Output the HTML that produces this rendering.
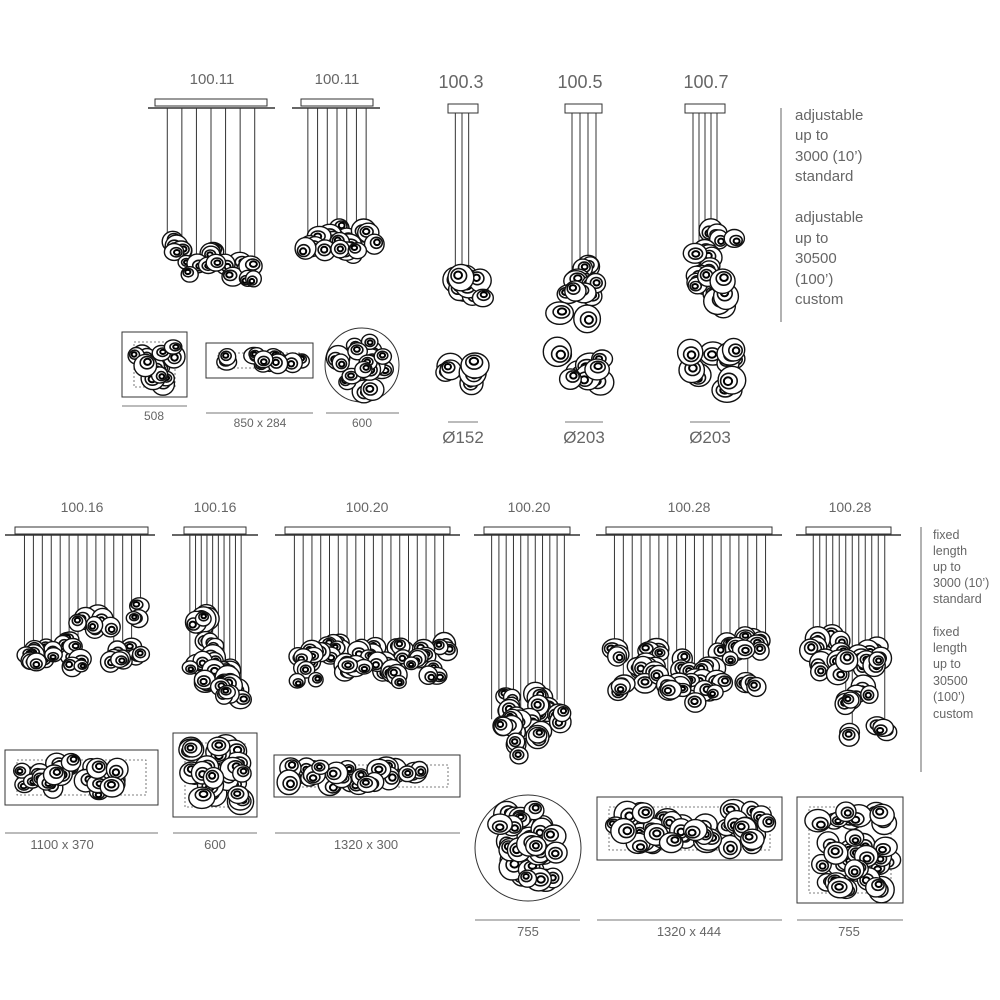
<!DOCTYPE html>
<html><head><meta charset="utf-8"><style>
html,body{margin:0;padding:0;background:#fff;width:1000px;height:1000px;overflow:hidden}
svg{display:block}
text{font-family:"Liberation Sans",sans-serif;fill:#666}
</style></head><body>
<svg id="s" width="1000" height="1000" viewBox="0 0 1000 1000" xmlns="http://www.w3.org/2000/svg">
<g fill="none" stroke="#333" stroke-width="1">
<rect x="155" y="99" width="112" height="7"/><line x1="148" y1="108" x2="275" y2="108" stroke-width="1.5"/>
<rect x="301" y="99" width="72" height="7"/><line x1="292" y1="108" x2="380" y2="108" stroke-width="1.5"/>
<rect x="448" y="104" width="30" height="9"/>
<rect x="565" y="104" width="37" height="9"/>
<rect x="685" y="104" width="40" height="9"/>
<line x1="781" y1="108" x2="781" y2="322" stroke="#666"/>
<rect x="122" y="332" width="65" height="65"/>
<rect x="206" y="343" width="107" height="35"/>
<circle cx="362" cy="365" r="37"/>
<g stroke="#777">
<line x1="122" y1="406" x2="187" y2="406"/><line x1="206" y1="413" x2="313" y2="413"/><line x1="326" y1="413" x2="399" y2="413"/>
<line x1="448" y1="422" x2="478" y2="422"/><line x1="565" y1="422" x2="603" y2="422"/><line x1="690" y1="422" x2="730" y2="422"/>
</g>
<rect x="15" y="527" width="133" height="7"/><line x1="5" y1="535" x2="155" y2="535" stroke-width="1.5"/>
<rect x="184" y="527" width="62" height="7"/><line x1="172" y1="535" x2="258" y2="535" stroke-width="1.5"/>
<rect x="285" y="527" width="165" height="7"/><line x1="275" y1="535" x2="460" y2="535" stroke-width="1.5"/>
<rect x="484" y="527" width="86" height="7"/><line x1="474" y1="535" x2="580" y2="535" stroke-width="1.5"/>
<rect x="606" y="527" width="166" height="7"/><line x1="596" y1="535" x2="782" y2="535" stroke-width="1.5"/>
<rect x="806" y="527" width="85" height="7"/><line x1="796" y1="535" x2="901" y2="535" stroke-width="1.5"/>
<line x1="921" y1="527" x2="921" y2="772" stroke="#666"/>
<rect x="5" y="750" width="153" height="55"/>
<rect x="173" y="733" width="84" height="84"/>
<rect x="274" y="755" width="186" height="42"/>
<circle cx="528" cy="848" r="53"/>
<rect x="597" y="797" width="185" height="63"/>
<rect x="797" y="797" width="106" height="106"/>
<g stroke="#777">
<line x1="5" y1="833" x2="158" y2="833"/><line x1="173" y1="833" x2="257" y2="833"/><line x1="275" y1="833" x2="460" y2="833"/>
<line x1="475" y1="920" x2="580" y2="920"/><line x1="597" y1="920" x2="782" y2="920"/><line x1="797" y1="920" x2="903" y2="920"/>
</g>
</g>
<g id="dyn"></g>
<g font-size="15" text-anchor="middle">
<text x="212" y="84">100.11</text><text x="337" y="84">100.11</text>
<text x="461" y="88" font-size="18">100.3</text><text x="580" y="88" font-size="18">100.5</text><text x="706" y="88" font-size="18">100.7</text>
<text x="154" y="420" font-size="12">508</text><text x="260" y="427" font-size="12">850 x 284</text><text x="362" y="427" font-size="12">600</text>
<text x="463" y="443" font-size="17">Ø152</text><text x="584" y="443" font-size="17">Ø203</text><text x="710" y="443" font-size="17">Ø203</text>
<text x="82" y="512" font-size="14">100.16</text><text x="215" y="512" font-size="14">100.16</text><text x="367" y="512" font-size="14">100.20</text>
<text x="529" y="512" font-size="14">100.20</text><text x="689" y="512" font-size="14">100.28</text><text x="850" y="512" font-size="14">100.28</text>
<text x="62" y="849" font-size="13">1100 x 370</text><text x="215" y="849" font-size="13">600</text><text x="366" y="849" font-size="13">1320 x 300</text>
<text x="528" y="936" font-size="13">755</text><text x="689" y="936" font-size="13">1320 x 444</text><text x="849" y="936" font-size="13">755</text>
</g>
<g font-size="15">
<text x="795" y="120">adjustable</text><text x="795" y="140">up to</text><text x="795" y="161">3000 (10’)</text><text x="795" y="181">standard</text>
<text x="795" y="222">adjustable</text><text x="795" y="243">up to</text><text x="795" y="263">30500</text><text x="795" y="284">(100’)</text><text x="795" y="304">custom</text>
</g>
<g font-size="12.5">
<text x="933" y="539">fixed</text><text x="933" y="555">length</text><text x="933" y="571">up to</text><text x="933" y="587">3000 (10’)</text><text x="933" y="603">standard</text>
<text x="933" y="636">fixed</text><text x="933" y="652">length</text><text x="933" y="668">up to</text><text x="933" y="685">30500</text><text x="933" y="701">(100’)</text><text x="933" y="718">custom</text>
</g>
</svg>
<script>
(function(){
var seed=7;function R(){seed=(seed*16807)%2147483647;return (seed-1)/2147483646;}
var g=document.getElementById('dyn'),out='';
function blob(x,y,r){
 var ry=r*(0.8+R()*0.25);
 out+='<ellipse cx="'+x.toFixed(1)+'" cy="'+y.toFixed(1)+'" rx="'+r.toFixed(1)+'" ry="'+ry.toFixed(1)+'" fill="#fff" stroke="#111" stroke-width="1.4"/>';
 var ox=(R()-0.5)*r*0.5,oy=(R()-0.5)*r*0.5;
 out+='<ellipse cx="'+(x+ox).toFixed(1)+'" cy="'+(y+oy).toFixed(1)+'" rx="'+(r*0.6).toFixed(1)+'" ry="'+(ry*0.55).toFixed(1)+'" fill="none" stroke="#111" stroke-width="1.6"/>';
 out+='<ellipse cx="'+(x+ox*1.3).toFixed(1)+'" cy="'+(y+oy*1.3).toFixed(1)+'" rx="'+(r*0.3).toFixed(1)+'" ry="'+(ry*0.28).toFixed(1)+'" fill="none" stroke="#000" stroke-width="2"/>';
}
function pend(L,Rt,cy,n,y0,y1,cx,pull,r){
 var items=[];
 for(var i=0;i<n;i++){var x=L+(i+0.5)*(Rt-L)/n;var by=y0+R()*(y1-y0);
  out+='<line x1="'+x+'" y1="'+cy+'" x2="'+x+'" y2="'+by+'" stroke="#333" stroke-width="1"/>';
  items.push([x+(cx-x)*pull+(R()-0.5)*8,by+r*0.6]);}
 items.sort(function(a,b){return a[1]-b[1]});
 items.forEach(function(p){blob(p[0],p[1],r*(0.85+R()*0.3));blob(p[0]+(R()-0.5)*r*1.8,p[1]+(R()-0.2)*r*1.6,r*(0.75+R()*0.3));blob(p[0]+(R()-0.5)*r*2,p[1]+(R()-0.1)*r*1.4,r*(0.7+R()*0.3));});
}
function cl(cx,cy,w,h,n,r){for(var i=0;i<n;i++)blob(cx+(R()-0.5)*w,cy+(R()-0.5)*h,r*(0.8+R()*0.4));}
function plan(x,y,w,h,n,r,dot){
 if(dot)out+='<rect x="'+(x+10)+'" y="'+(y+8)+'" width="'+(w-20)+'" height="'+(h-16)+'" fill="none" stroke="#555" stroke-dasharray="2,2" stroke-width="0.8"/>';
 for(var i=0;i<n;i++)blob(x+r+R()*(w-2*r),y+r+R()*(h-2*r),r*(0.8+R()*0.4));
}
function cplan(cx,cy,rad,n,r){for(var i=0;i<n;i++){var a=R()*6.283,d=Math.sqrt(R())*(rad-r);blob(cx+Math.cos(a)*d,cy+Math.sin(a)*d,r*(0.8+R()*0.4));}}
pend(160,262,108,7,235,265,211,0.05,11);
pend(303,371,108,7,220,255,337,0.2,11);
pend(452,472,113,3,265,285,465,0.3,11);cl(465,292,40,30,4,12);
pend(568,600,113,4,250,280,583,0.3,11);cl(582,298,45,45,5,12);
pend(690,720,113,5,222,280,710,0.5,11);cl(712,280,45,90,8,12);
plan(124,334,61,61,13,10,true);
plan(208,345,103,31,13,9,true);
cplan(362,365,37,18,10);
cl(463,370,36,40,7,12);
cl(580,372,46,44,9,13);
cl(711,370,50,44,10,13);
pend(20,145,535,14,600,660,80,0.05,10);
pend(187,244,535,10,600,690,212,0.25,11);
pend(290,448,535,18,635,675,367,0.03,10);
pend(488,568,535,11,680,740,528,0.25,11);
pend(610,770,535,18,625,685,689,0.03,11);
pend(810,888,535,12,620,735,850,0.15,11);
plan(7,752,149,51,26,10,true);
plan(175,735,80,80,24,11,true);
plan(276,757,182,38,28,10,true);
cplan(528,848,53,34,11);
plan(599,799,181,59,40,11,true);
plan(799,799,102,102,36,11,true);
g.innerHTML=out;
})();
</script>
</body></html>
